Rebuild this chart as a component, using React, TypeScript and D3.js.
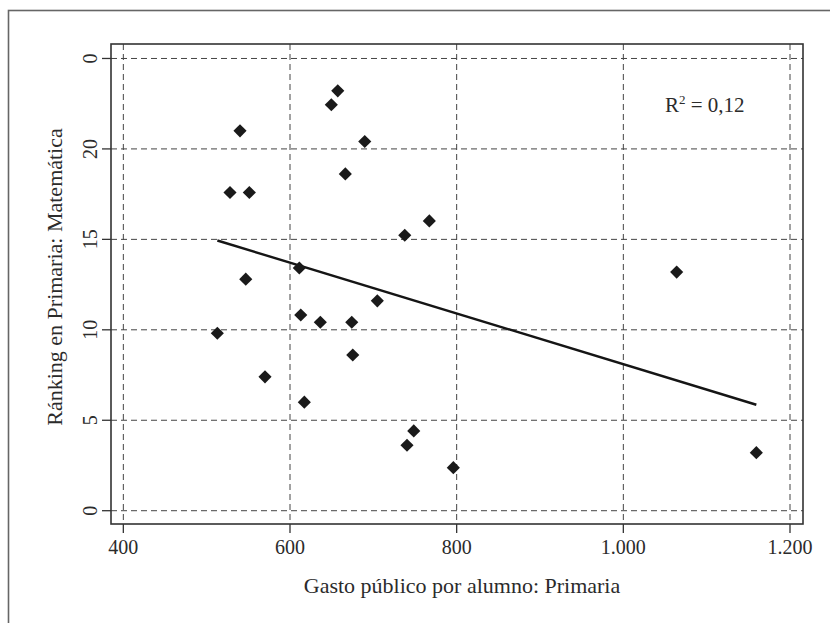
import React from "react";
import * as d3 from "d3";

const gasto = [512.8, 528, 551.2, 540, 546.9, 570, 611.2, 612.9, 617.2, 636.4, 649.6, 657.3, 666.4, 674.1, 675.3, 689.7, 704.8, 737.7, 740.4, 748.5, 767.2, 796, 1064, 1159.6];
const ranking = [9.81, 17.59, 17.59, 21.0, 12.8, 7.4, 13.42, 10.82, 6.0, 10.42, 22.44, 23.21, 18.62, 10.42, 8.61, 20.41, 11.6, 15.23, 3.62, 4.41, 16.02, 2.38, 13.19, 3.21];
const xTicks = [400, 600, 800, 1000, 1200];
const xTickLabels = ["400", "600", "800", "1.000", "1.200"];
const yTicks = [0, 5, 10, 15, 20, 25];
const yTickLabels = ["0", "5", "10", "15", "20", "0"];
const xTitle = "Gasto público por alumno: Primaria";
const yTitle = "Ránking en Primaria: Matemática";
const r2Label = "0,12";

const W = 830, H = 623;
const left = 111, right = 803, top = 44, bottom = 524;
const FONT = "'Liberation Serif', 'DejaVu Serif', serif";
const TXT = "#2b2b2b";

export default function App() {
  const x = d3.scaleLinear().domain([385.2, 1215.6]).range([left, right]);
  const y = d3.scaleLinear().domain([-0.735, 25.8]).range([bottom, top]);

  const mx = d3.mean(gasto) as number;
  const my = d3.mean(ranking) as number;
  let sxy = 0, sxx = 0;
  gasto.forEach((g, i) => {
    sxy += (g - mx) * (ranking[i] - my);
    sxx += (g - mx) * (g - mx);
  });
  const slope = sxy / sxx;
  const intercept = my - slope * mx;
  const [x0, x1] = d3.extent(gasto) as [number, number];
  const line = d3.line<number>().x((d) => x(d)).y((d) => y(intercept + slope * d));

  const diamond = d3.symbol().type(d3.symbolDiamond2).size(110)();

  return (
    <svg width={W} height={H} style={{ position: "absolute", left: 0, top: 0, background: "#fff" }}>
      <rect x={8.5} y={10.5} width={900} height={700} fill="none" stroke="#666" strokeWidth={1.6} />
      {/* grid */}
      {yTicks.map((t) => (
        <line key={"gy" + t} x1={left} x2={right} y1={y(t)} y2={y(t)} stroke="#444" strokeWidth={1} strokeDasharray="6,4" />
      ))}
      {xTicks.map((t) => (
        <line key={"gx" + t} x1={x(t)} x2={x(t)} y1={top} y2={bottom} stroke="#444" strokeWidth={1} strokeDasharray="6,4" />
      ))}
      <rect x={left} y={top} width={right - left} height={bottom - top} fill="none" stroke="#333" strokeWidth={1.6} />
      {/* ticks */}
      {yTicks.map((t, i) => (
        <g key={"ty" + t}>
          <line x1={left - 9} x2={left} y1={y(t)} y2={y(t)} stroke="#333" strokeWidth={1.3} />
          <text
            transform={`translate(${97},${y(t)}) rotate(-90)`}
            textAnchor="middle"
            fontFamily={FONT}
            fontSize={20}
            fill={TXT}
          >
            {yTickLabels[i]}
          </text>
        </g>
      ))}
      {xTicks.map((t, i) => (
        <g key={"tx" + t}>
          <line x1={x(t)} x2={x(t)} y1={bottom} y2={bottom + 9} stroke="#333" strokeWidth={1.3} />
          <text x={x(t)} y={554} textAnchor="middle" fontFamily={FONT} fontSize={20} fill={TXT}>
            {xTickLabels[i]}
          </text>
        </g>
      ))}
      {/* titles */}
      <text x={(left + right) / 2 + 5} y={593} textAnchor="middle" fontFamily={FONT} fontSize={22} fill={TXT}>
        {xTitle}
      </text>
      <text
        transform={`translate(${62},${277}) rotate(-90)`}
        textAnchor="middle"
        fontFamily={FONT}
        fontSize={22}
        fill={TXT}
      >
        {yTitle}
      </text>
      {/* fit line */}
      <path d={line([x0, x1]) as string} fill="none" stroke="#151515" strokeWidth={2.4} />
      {/* points */}
      {gasto.map((g, i) => (
        <path key={"p" + i} d={diamond as string} transform={`translate(${x(g)},${y(ranking[i])})`} fill="#1a1a1a" />
      ))}
      {/* R2 */}
      <text x={665} y={112} fontFamily={FONT} fontSize={21} fill={TXT}>
        R<tspan dy={-8} fontSize={13}>2</tspan>
        <tspan dy={8}>{" = " + r2Label}</tspan>
      </text>
    </svg>
  );
}
